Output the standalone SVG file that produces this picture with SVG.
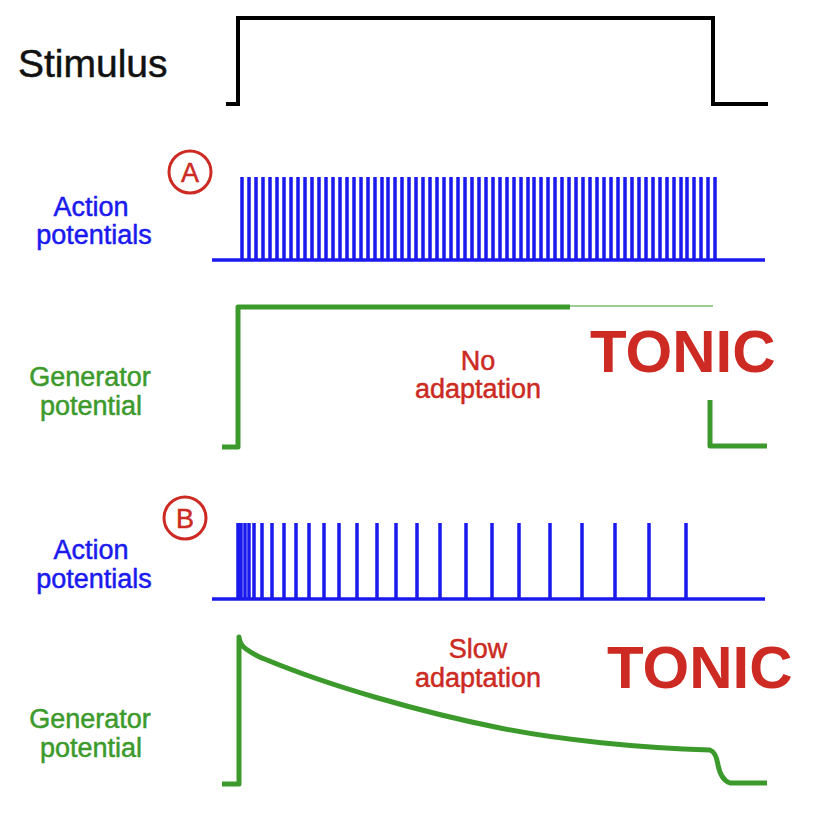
<svg xmlns="http://www.w3.org/2000/svg" width="823" height="834" viewBox="0 0 823 834">
<style>
.lbl{font-family:"Liberation Sans",Arial,sans-serif;font-size:27px;text-anchor:middle;stroke-width:0.5}
.blue{fill:#1a1aee;stroke:#1a1aee}
.green{fill:#3c9a2c;stroke:#3c9a2c}
.red{fill:#cc2a22;stroke:#cc2a22}
.tonic{font-family:"Liberation Sans",Arial,sans-serif;font-weight:bold;font-size:60px;fill:#cc2a22}
.stim{fill:none;stroke:#000;stroke-width:4}
.gp{fill:none;stroke:#3c9a2c;stroke-width:5;stroke-linejoin:round}
.sp{stroke:#1a1aee;stroke-width:3.5}
.circ{fill:none;stroke:#cc2a22;stroke-width:3}
</style>
<rect width="823" height="834" fill="#ffffff"/>
<g id="stimulus">
<text x="18" y="77" font-family="Liberation Sans,Arial,sans-serif" font-size="39" fill="#111" stroke="#111" stroke-width="0.5">Stimulus</text>
<path class="stim" d="M226,104 H238 V18 H713 V104 H768"/>
</g>
<g id="panelA-label">
<circle class="circ" cx="190" cy="172" r="21"/>
<text x="190" y="182" class="lbl red" font-size="28" stroke-width="1">A</text>
<text x="91" y="216" class="lbl blue">Action</text>
<text x="94" y="244" class="lbl blue" font-size="28">potentials</text>
</g>
<g id="spikesA">
<line class="sp" x1="212" y1="260" x2="765" y2="260"/>
<path class="sp" fill="none" d="M242,177V260M249,177V260M256,177V260M263,177V260M270,177V260M277,177V260M284,177V260M291,177V260M298,177V260M305,177V260M312,177V260M319,177V260M326,177V260M333,177V260M340,177V260M347,177V260M354,177V260M361,177V260M368,177V260M375,177V260M382,177V260M388,177V260M395,177V260M402,177V260M409,177V260M416,177V260M423,177V260M430,177V260M437,177V260M444,177V260M451,177V260M458,177V260M465,177V260M472,177V260M479,177V260M486,177V260M493,177V260M500,177V260M507,177V260M514,177V260M521,177V260M528,177V260M534,177V260M541,177V260M548,177V260M555,177V260M562,177V260M569,177V260M576,177V260M583,177V260M590,177V260M597,177V260M604,177V260M611,177V260M618,177V260M625,177V260M632,177V260M639,177V260M646,177V260M653,177V260M660,177V260M667,177V260M674,177V260M681,177V260M687,177V260M694,177V260M701,177V260M708,177V260M715,177V260"/>
</g>
<g id="generatorA">
<text x="90" y="386" class="lbl green" font-size="28">Generator</text>
<text x="91" y="415" class="lbl green" font-size="28">potential</text>
<path class="gp" d="M222,447 H238 V307 H570"/>
<line x1="570" y1="306" x2="713" y2="306" stroke="#3c9a2c" stroke-width="1"/>
<path class="gp" d="M710,400 V446 H767"/>
<text x="478" y="370" class="lbl red" font-size="29">No</text>
<text x="478" y="398" class="lbl red" font-size="29">adaptation</text>
<text x="590" y="372" class="tonic">TONIC</text>
</g>
<g id="panelB-label">
<circle class="circ" cx="185" cy="518" r="21"/>
<text x="185" y="528" class="lbl red" font-size="28" stroke-width="1">B</text>
<text x="91" y="559" class="lbl blue">Action</text>
<text x="94" y="588" class="lbl blue" font-size="28">potentials</text>
</g>
<g id="spikesB">
<line class="sp" x1="212" y1="599" x2="765" y2="599"/>
<path class="sp" fill="none" d="M238,523V599M241,523V599M245,523V599M249,523V599M254,523V599M262,523V599M272,523V599M284,523V599M296,523V599M309,523V599M324,523V599M339,523V599M357,523V599M377,523V599M396,523V599M417,523V599M440,523V599M466,523V599M492,523V599M519,523V599M550,523V599M582,523V599M615,523V599M649,523V599M686,523V599"/>
</g>
<g id="generatorB">
<text x="90" y="728" class="lbl green" font-size="28">Generator</text>
<text x="91" y="757" class="lbl green" font-size="28">potential</text>
<path class="gp" d="M222,784 H239 V637 Q240,645 246,649 Q256,656 267,660 C330,686 420,712 500,728 C560,740 640,748 710,750 Q716,752 718,765 Q721,780 730,783 H767"/>
<text x="478" y="658" class="lbl red" font-size="29">Slow</text>
<text x="478" y="687" class="lbl red" font-size="29">adaptation</text>
<text x="607" y="688" class="tonic">TONIC</text>
</g>
</svg>
